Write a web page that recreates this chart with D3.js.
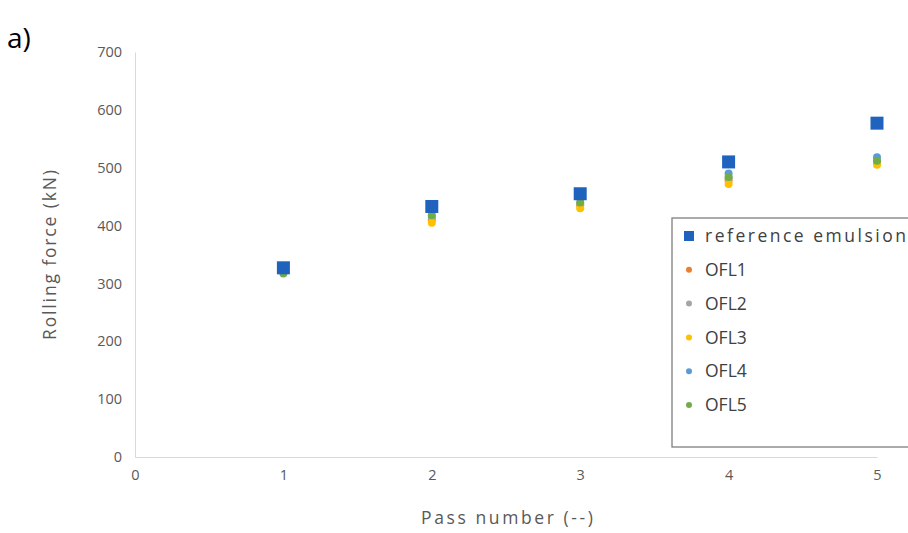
<!DOCTYPE html>
<html><head><meta charset="utf-8">
<script src="https://cdn.jsdelivr.net/npm/d3@7"></script>
<style>body{margin:0;background:#fff;}svg{display:block;}</style>
</head><body>
<script>
const passes = [1, 2, 3, 4, 5];
const refEmulsion = [327, 433, 455, 510, 577];
const ofl1 = [322, 410, 435, 478, 508];
const ofl2 = [323, 415, 438, 482, 510];
const ofl3 = [320, 405, 430, 472, 505];
const ofl4 = [325, 425, 448, 490, 518];
const ofl5 = [317, 418, 440, 484, 512];
const seriesNames = ["reference emulsion", "OFL1", "OFL2", "OFL3", "OFL4", "OFL5"];
const xTicks = [0, 1, 2, 3, 4, 5];
const yTicks = [0, 100, 200, 300, 400, 500, 600, 700];

const colors = ["#1f63bf", "#ed7d31", "#a5a5a5", "#ffc000", "#5b9bd5", "#70ad47"];
const W = 908, H = 533;
const svg = d3.select("body").append("svg").attr("width", W).attr("height", H);
const font = "'Open Sans', 'Liberation Sans', sans-serif";

const x = d3.scaleLinear().domain([0, 5]).range([135, 877]);
const y = d3.scaleLinear().domain([0, 700]).range([457, 52]);

// axes
const yAxis = svg.append("g").attr("transform", "translate(135,0)")
  .call(d3.axisLeft(y).tickValues(yTicks).tickSize(0).tickPadding(13).tickFormat(d3.format("d")));
const xAxis = svg.append("g").attr("transform", "translate(0,457)")
  .call(d3.axisBottom(x).tickValues(xTicks).tickSize(0).tickPadding(13).tickFormat(d3.format("d")));
[yAxis, xAxis].forEach(g => {
  g.select(".domain").attr("stroke", "#d9d9d9").attr("stroke-width", 1);
  g.selectAll("text").attr("fill", "#595959").style("font-family", font).style("font-size", "14.5px");
});

svg.append("text").attr("x", 507).attr("y", 524).attr("text-anchor", "middle")
  .attr("fill", "#595959").style("font-family", font).style("font-size", "17.5px")
  .attr("textLength", 172).attr("lengthAdjust", "spacing").text("Pass number (--)");
svg.append("text").attr("transform", "translate(56,255) rotate(-90)").attr("text-anchor", "middle")
  .attr("fill", "#595959").style("font-family", font).style("font-size", "17.5px")
  .attr("textLength", 170).attr("lengthAdjust", "spacing").text("Rolling force (kN)");
svg.append("text").attr("x", 7).attr("y", 48).attr("fill", "#000")
  .style("font-family", font).style("font-size", "28px").text("a)");

// points
const oflSeries = [ofl1, ofl2, ofl3, ofl4, ofl5];
oflSeries.forEach((s, i) => {
  svg.append("g").selectAll("circle").data(s).join("circle")
    .attr("cx", (d, j) => x(passes[j])).attr("cy", d => y(d)).attr("r", 4)
    .attr("fill", colors[i + 1]);
});
svg.append("g").selectAll("rect").data(refEmulsion).join("rect")
  .attr("x", (d, j) => x(passes[j]) - 6.5).attr("y", d => y(d) - 6.5)
  .attr("width", 13).attr("height", 13).attr("fill", colors[0]);

// legend
const lg = svg.append("g");
lg.append("rect").attr("x", 672).attr("y", 218).attr("width", 260).attr("height", 229)
  .attr("fill", "#fff").attr("stroke", "#7f7f7f").attr("stroke-width", 1.3);
seriesNames.forEach((n, i) => {
  const cy = 236 + i * 33.8;
  if (i === 0) {
    lg.append("rect").attr("x", 684).attr("y", cy - 5).attr("width", 10).attr("height", 10).attr("fill", colors[0]);
  } else {
    lg.append("circle").attr("cx", 689).attr("cy", cy).attr("r", 3).attr("fill", colors[i]);
  }
  const t = lg.append("text").attr("x", 705).attr("y", cy).attr("dy", "0.35em")
    .attr("fill", "#404040").style("font-family", font).style("font-size", "17.5px").text(n);
  if (i === 0) t.attr("textLength", 201).attr("lengthAdjust", "spacing");
});
</script>
</body></html>
